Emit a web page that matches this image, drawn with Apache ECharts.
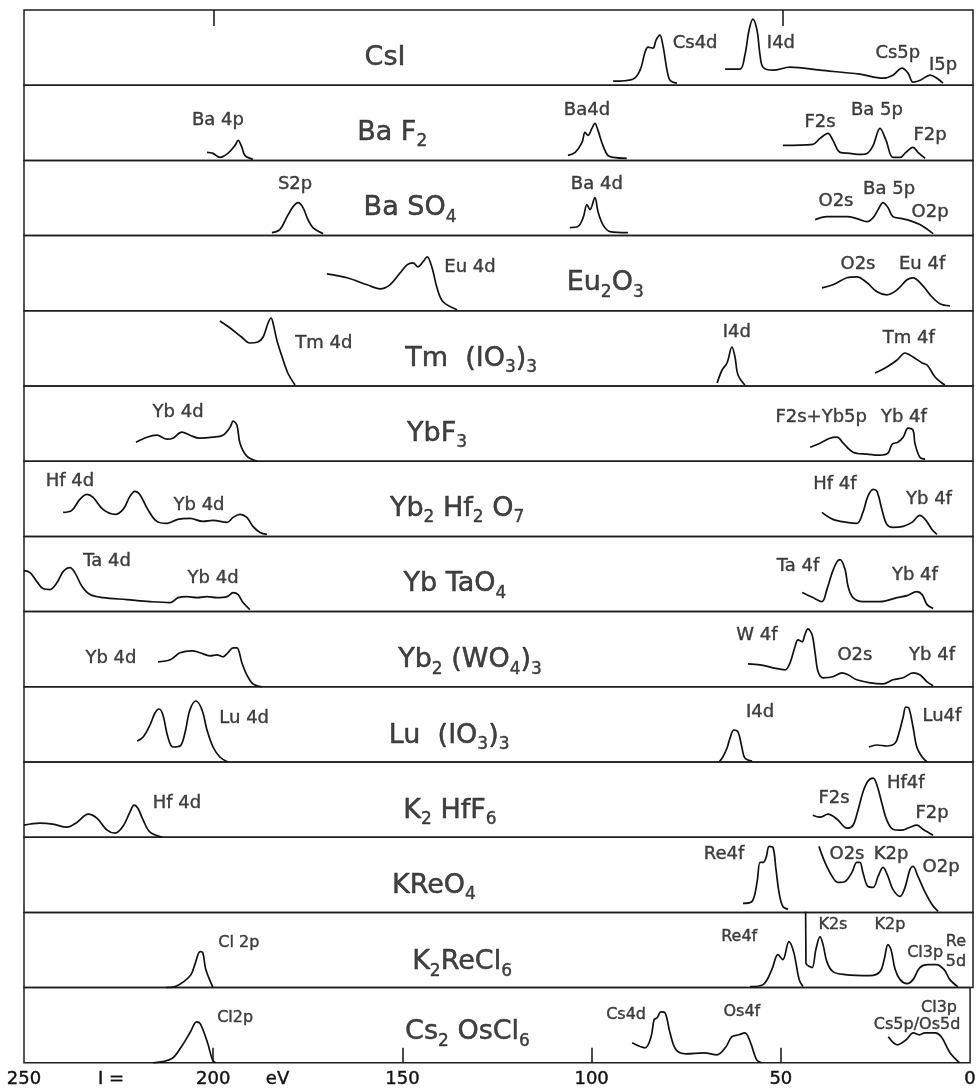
<!DOCTYPE html>
<html>
<head>
<meta charset="utf-8">
<script src="https://cdn.jsdelivr.net/npm/echarts@6/dist/echarts.min.js"></script>
<style>
html, body { margin: 0; padding: 0; background: #fff; }
#chart { width: 979px; height: 1092px; }
</style>
</head>
<body>
<div id="chart"></div>
<script>
// binding energy (eV) , intensity (arbitrary, 0..75 per strip)

// --- CsI
var csiCs4d = [[94.8,4],[89.6,6],[87.7,15],[86.4,33],[85.6,38],[84.3,37],[83.5,45],[82.5,50],[81.7,40],[80.6,15],[79.8,5],[78.0,2]];
var csiI4d = [[65.3,16],[61.4,16],[60.1,30],[59.0,55],[58.0,66],[56.9,55],[56.1,30],[55.3,18],[52.7,15],[48.2,18],[40.3,15],[29.8,11],[23.7,7],[21.1,10],[18.7,17],[17.1,12],[15.8,3],[13.9,5],[11.3,10],[9.5,7],[7.9,2]];
var csiLabels = [[73.2,42,'Cs4d'],[50.6,42,'I4d'],[19.8,32,'Cs5p'],[7.9,20,'I5p']];

// --- BaF2
var baf2Ba4p = [[201.8,8],[200.2,7],[198.4,3],[196.3,7],[194.4,15],[193.6,20],[192.6,13],[191.8,5],[189.7,1]];
var baf2Ba4d = [[106.7,5],[104.8,8],[103.0,18],[102.2,28],[101.4,25],[100.4,32],[99.6,37],[98.8,30],[97.5,15],[96.2,5],[94.8,3],[91.2,2]];
var baf2Val = [[50.1,15],[42.2,16],[40.3,22],[38.2,27],[36.9,20],[35.0,8],[32.4,7],[29.8,6],[27.9,7],[26.3,15],[24.5,32],[22.9,20],[21.1,3],[19.2,3],[17.7,8],[15.8,13],[14.5,8],[12.6,2]];
var baf2Labels = [[198.9,40,'Ba 4p'],[101.7,50,'Ba4d'],[40.3,38,'F2s'],[25.3,50,'Ba 5p'],[11.3,25,'F2p']];

// --- BaSO4
var baso4S2p = [[184.7,3],[182.6,6],[180.7,19],[179.1,29],[177.8,33],[176.5,28],[175.2,16],[173.9,8],[171.2,2]];
var baso4Ba4d = [[106.2,8],[104.1,9],[102.7,18],[101.7,31],[100.9,26],[99.6,38],[98.8,24],[97.5,11],[95.6,4],[90.9,3]];
var baso4Val = [[41.6,16],[38.5,19],[35.8,19],[33.2,19],[30.6,17],[27.9,14],[26.3,18],[25.0,26],[23.7,33],[22.4,28],[21.1,19],[18.7,17],[16.6,15],[14.0,11],[11.9,6],[10.5,2]];
var baso4Labels = [[178.6,51,'S2p'],[99.1,51,'Ba 4d'],[36.1,34,'O2s'],[22.1,46,'Ba 5p'],[11.3,23,'O2p']];

// --- Eu2O3
var euEu4d = [[170.2,37],[164.9,33],[159.6,26],[156.2,22],[153.6,26],[150.9,38],[149.1,46],[147.5,48],[146.2,44],[144.9,49],[143.8,54],[142.5,43],[141.2,23],[139.6,9],[135.9,1]];
var euVal = [[39.8,23],[36.9,26],[33.2,33],[30.6,34],[27.9,28],[25.3,19],[22.7,16],[20.0,21],[17.4,31],[15.8,33],[13.4,26],[11.3,16],[8.7,7],[6.1,5]];
var euLabels = [[132.5,43,'Eu 4d'],[30.3,46,'O2s'],[13.4,46,'Eu 4f']];

// --- Tm(IO3)3
var tmTm4d = [[198.4,65],[195.7,58],[192.7,49],[190.5,43],[188.4,44],[187.0,49],[185.7,63],[184.9,68],[184.4,63],[183.4,46],[182.0,29],[180.5,13],[178.6,1]];
var tmI4d = [[67.4,3],[66.1,16],[64.8,23],[63.5,39],[62.7,29],[61.9,11],[60.1,1]];
var tmTm4f = [[25.8,13],[22.7,19],[20.0,26],[17.9,33],[15.8,29],[13.4,23],[12.1,21],[10.0,9],[8.2,3],[7.4,1]];
var tmLabels = [[171.0,43,'Tm 4d'],[62.2,54,'I4d'],[16.9,48,'Tm 4f']];

// --- YbF3
var ybf3Yb4d = [[220.5,19],[217.6,24],[215.0,26],[212.3,22],[210.8,23],[208.4,29],[206.3,26],[203.8,23],[200.2,24],[197.6,26],[195.7,34],[194.9,40],[193.9,36],[193.1,18],[191.3,5],[188.6,0]];
var ybf3Val = [[42.9,14],[40.3,18],[37.7,23],[35.8,24],[34.2,18],[31.6,9],[27.9,7],[24.5,6],[22.4,8],[21.3,17],[19.8,19],[18.4,24],[17.1,33],[15.8,31],[15.3,18],[14.0,4],[12.6,2]];
var ybf3Labels = [[209.4,49,'Yb 4d'],[40.0,44,'F2s+Yb5p'],[18.2,44,'Yb 4f']];

// --- Yb2Hf2O7
var ybhfHf4d = [[239.7,24],[237.4,26],[235.3,37],[233.4,42],[231.8,39],[229.2,27],[226.0,22],[223.9,27],[222.1,40],[220.8,45],[219.5,42],[217.4,27],[215.0,15],[212.3,13],[209.5,17],[206.3,18],[202.9,15],[200.2,16],[196.5,14],[194.9,19],[193.1,22],[191.3,19],[189.7,10],[187.8,4],[186.0,2]];
var ybhfVal = [[39.8,24],[36.9,17],[33.2,14],[30.6,13],[29.0,24],[27.7,40],[26.3,47],[25.3,45],[24.0,27],[22.7,12],[21.1,9],[18.4,10],[16.1,14],[14.0,21],[12.6,17],[10.8,7],[9.5,2]];
var ybhfLabels = [[237.9,55,'Hf 4d'],[203.9,31,'Yb 4d'],[36.4,52,'Hf 4f'],[11.6,37,'Yb 4f']];

// --- YbTaO4
var ybtaTa4d = [[250,41],[248.4,39],[246.6,30],[245.0,23],[243.2,22],[241.3,29],[239.7,40],[237.9,44],[236.6,39],[234.7,25],[232.6,17],[229.2,14],[222.9,12],[216.8,10],[211.5,9],[209.4,14],[207.1,15],[204.4,14],[201.8,15],[199.2,14],[196.5,15],[194.9,19],[193.6,17],[192.3,9],[190.5,2]];
var ybtaVal = [[45.0,19],[42.2,14],[39.8,10],[38.5,22],[37.1,39],[35.8,50],[35.0,52],[33.7,42],[32.9,25],[31.6,14],[29.0,10],[24.5,10],[20.0,14],[17.4,16],[14.8,20],[13.4,17],[12.1,7],[10.5,3]];
var ybtaLabels = [[228.1,50,'Ta 4d'],[200.2,33,'Yb 4d'],[46.1,45,'Ta 4f'],[15.3,36,'Yb 4f']];

// --- Yb2(WO4)3
var ybwYb4d = [[214.7,25],[211.5,27],[208.9,34],[205.7,36],[203.6,34],[201.0,31],[199.2,32],[197.6,30],[196.3,34],[194.9,39],[193.9,39],[192.6,24],[191.3,12],[189.7,3],[187.3,0]];
var ybwVal = [[59.3,23],[56.1,22],[52.7,19],[49.5,17],[48.2,24],[46.9,40],[46.1,47],[45.0,45],[44.3,52],[43.5,58],[42.4,52],[41.6,34],[40.8,15],[39.5,9],[36.9,10],[34.5,14],[32.9,12],[30.6,7],[27.1,4],[23.7,3],[21.1,7],[18.4,9],[15.8,14],[14.0,12],[12.1,5],[10.5,1]];
var ybwLabels = [[227.1,28,'Yb 4d'],[56.9,51,'W 4f'],[31.1,31,'O2s'],[10.8,31,'Yb 4f']];

// --- Lu(IO3)3
var luLu4d = [[220.2,21],[218.6,25],[216.8,37],[215.5,49],[214.4,53],[213.4,47],[212.1,25],[210.8,15],[208.9,16],[207.6,29],[206.3,52],[204.7,61],[203.1,52],[201.8,32],[200.2,15],[198.4,5],[196.3,0]];
var luI4d = [[66.9,0],[65.9,5],[64.8,14],[64.0,24],[63.0,32],[61.9,30],[60.9,15],[60.1,4],[58.2,1]];
var luLu4f = [[27.4,15],[25.3,17],[22.7,16],[20.5,19],[19.5,29],[18.4,45],[17.7,55],[16.9,54],[15.8,35],[14.8,15],[13.4,5],[12.1,0]];
var luLabels = [[192.0,44,'Lu 4d'],[56.1,50,'I4d'],[8.2,46,'Lu4f']];

// --- K2HfF6
var khfHf4d = [[250,12],[245.8,14],[242.4,13],[238.7,10],[236.0,15],[233.1,23],[230.8,19],[228.1,7],[226.0,4],[223.9,11],[222.1,25],[221.0,32],[220.0,29],[218.6,17],[216.8,5],[213.6,0]];
var khfVal = [[42.2,22],[40.3,20],[38.2,23],[35.8,18],[33.2,9],[31.6,12],[30.3,27],[29.0,45],[27.7,56],[26.3,59],[25.3,52],[24.0,34],[22.7,17],[21.1,8],[18.7,7],[16.6,10],[14.8,12],[13.2,8],[10.5,2]];
var khfLabels = [[209.7,34,'Hf 4d'],[36.6,39,'F2s'],[17.7,54,'Hf4f'],[10.8,24,'F2p']];

// --- KReO4
var kreRe4f = [[60.6,9],[58.2,11],[56.9,30],[56.1,50],[55.3,50],[54.5,55],[53.7,66],[52.7,65],[51.9,43],[51.1,20],[50.1,6],[48.7,3]];
var kreVal = [[40.6,66],[39.0,50],[37.1,36],[35.6,30],[33.7,31],[31.9,40],[30.6,50],[29.8,50],[29.0,40],[27.7,26],[26.3,25],[25.0,36],[23.7,45],[22.4,36],[21.1,23],[19.2,16],[17.9,25],[16.6,43],[15.8,46],[14.5,36],[12.6,20],[10.8,8],[9.2,1]];
var kreLabels = [[65.6,58,'Re4f'],[33.2,58,'O2s'],[21.6,58,'K2p'],[8.4,45,'O2p']];

// --- K2ReCl6
var k2reCl2p = [[212.6,0],[210.2,1],[207.9,6],[206.0,13],[205.0,23],[203.6,36],[202.9,35],[202.1,18],[200.2,0]];
var k2reRe4f = [[58.7,1],[55.3,3],[53.0,18],[51.4,33],[50.1,28],[48.5,46],[47.2,35],[45.8,8],[44.8,1]];
var k2reEdge = [[44.1,76],[44.0,24],[43.6,22]];
var k2reVal = [[43.6,22],[42.4,20],[41.4,38],[40.3,51],[39.5,43],[38.5,26],[36.9,16],[33.7,13],[27.1,12],[24.5,16],[23.4,28],[22.4,43],[21.6,38],[20.5,18],[19.2,8],[17.4,4],[15.8,8],[14.0,20],[11.9,23],[9.7,23],[7.6,18],[6.1,8],[4.0,1]];
var k2reLabels = [[193.4,45,'Cl 2p'],[61.6,51,'Re4f'],[36.9,63,'K2s'],[21.9,63,'K2p'],[12.6,35,'Cl3p'],[4.5,46,'Re'],[4.5,26,'5d']];

// --- Cs2OsCl6
var cs2Cl2p = [[215.8,0],[211.0,4],[208.6,15],[206.0,31],[204.4,41],[203.4,39],[201.5,20],[200.2,3],[199.4,0]];
var cs2Cs4dOs4f = [[89.3,20],[85.9,15],[84.3,26],[83.5,43],[82.7,45],[81.7,51],[80.6,50],[79.3,30],[77.7,13],[75.1,9],[70.3,10],[66.9,8],[64.5,16],[63.0,26],[61.1,28],[59.5,30],[58.0,20],[56.4,3],[55.1,0]];
var cs2Val = [[21.6,26],[19.2,18],[16.9,23],[15.0,30],[13.4,28],[11.9,30],[9.2,30],[7.6,26],[5.3,10],[2.8,0]];
var cs2Labels = [[194.2,45,'Cl2p'],[90.9,48,'Cs4d'],[60.3,51,'Os4f'],[8.2,55,'Cl3p'],[14.0,38,'Cs5p/Os5d']];

// compound names (rich text) and their anchor in data units
var titles = [
  '{t|CsI}', '{t|Ba F}{s|2}', '{t|Ba SO}{s|4}', '{t|Eu}{s|2}{t|O}{s|3}',
  '{t|Tm  (IO}{s|3}{t|)}{s|3}', '{t|YbF}{s|3}', '{t|Yb}{s|2}{t| Hf}{s|2}{t| O}{s|7}',
  '{t|Yb TaO}{s|4}', '{t|Yb}{s|2}{t| (WO}{s|4}{t|)}{s|3}', '{t|Lu  (IO}{s|3}{t|)}{s|3}',
  '{t|K}{s|2}{t| HfF}{s|6}', '{t|KReO}{s|4}', '{t|K}{s|2}{t|ReCl}{s|6}', '{t|Cs}{s|2}{t| OsCl}{s|6}'
];
var titlePos = [[154.9,27],[153,27],[148.3,27],[96.9,27],[132.2,27],[141.2,27],[135.9,27],
  [136.5,27],[132.5,26],[138.0,26],[137.8,26],[142.0,26],[134.6,25],[132.8,30]];

// energy axis
var tickValues = [200, 150, 100, 50];
var topTickValues = [200, 50];
var axisLabelValues = [250, 227, 200, 183, 150, 100, 50, 0];
var axisLabelText = {250: '250', 227: 'I =', 200: '200', 183: 'eV', 150: '150', 100: '100', 50: '50', 0: '0'};

var rowCurves = [
  [csiCs4d, csiI4d],
  [baf2Ba4p, baf2Ba4d, baf2Val],
  [baso4S2p, baso4Ba4d, baso4Val],
  [euEu4d, euVal],
  [tmTm4d, tmI4d, tmTm4f],
  [ybf3Yb4d, ybf3Val],
  [ybhfHf4d, ybhfVal],
  [ybtaTa4d, ybtaVal],
  [ybwYb4d, ybwVal],
  [luLu4d, luI4d, luLu4f],
  [khfHf4d, khfVal],
  [kreRe4f, kreVal],
  [k2reCl2p, k2reRe4f, k2reVal],
  [cs2Cl2p, cs2Cs4dOs4f, cs2Val]
];
var rowStraight = [[], [], [], [], [], [], [], [], [], [], [], [], [k2reEdge], []];
var rowLabels = [csiLabels, baf2Labels, baso4Labels, euLabels, tmLabels, ybf3Labels, ybhfLabels,
  ybtaLabels, ybwLabels, luLabels, khfLabels, kreLabels, k2reLabels, cs2Labels];

var FONT = 'DejaVu Sans';
var INK = '#111';
var TOP = 10, H = 75.2, LEFT = 24, RIGHT = 6;
var YMAX = 75.2;

var myChart = echarts.init(document.getElementById('chart'), null, {renderer: 'canvas'});

var grids = [], xAxes = [], yAxes = [], series = [];
var n = rowCurves.length;

for (var i = 0; i < n; i++) {
  grids.push({
    left: LEFT, right: RIGHT, top: TOP + i * H, height: H,
    show: true, borderColor: '#1e1e1e', borderWidth: 1.5, backgroundColor: 'transparent'
  });
  var xa = {
    gridIndex: i, type: 'value', min: 0, max: 250, inverse: true,
    splitLine: {show: false}, axisLine: {show: false, onZero: false},
    axisTick: {show: false}, axisLabel: {show: false}
  };
  if (i === 0) {
    xa.position = 'top';
    xa.axisTick = {show: true, inside: true, length: 16, customValues: topTickValues,
      lineStyle: {color: INK, width: 1.5}};
  }
  if (i === n - 1) {
    xa.position = 'bottom';
    xa.axisTick = {show: true, inside: true, length: 15, customValues: tickValues,
      lineStyle: {color: INK, width: 1.5}};
    xa.axisLabel = {show: true, customValues: axisLabelValues, margin: 8,
      color: INK, fontSize: 18, fontFamily: FONT,
      textBorderColor: INK, textBorderWidth: 0.4,
      formatter: function (v) { return axisLabelText[v]; }};
  }
  xAxes.push(xa);
  yAxes.push({gridIndex: i, type: 'value', min: 0, max: YMAX, show: false});

  rowCurves[i].forEach(function (curve) {
    series.push({
      type: 'line', xAxisIndex: i, yAxisIndex: i, data: curve,
      smooth: 0.35, showSymbol: false, silent: true, clip: true,
      lineStyle: {color: INK, width: 1.7}
    });
  });
  rowStraight[i].forEach(function (curve) {
    series.push({
      type: 'line', xAxisIndex: i, yAxisIndex: i, data: curve,
      smooth: false, showSymbol: false, silent: true, clip: true,
      lineStyle: {color: INK, width: 1.7}
    });
  });

  var small = i >= 12;
  series.push({
    type: 'scatter', xAxisIndex: i, yAxisIndex: i, silent: true, clip: false,
    symbolSize: 1, itemStyle: {color: 'rgba(0,0,0,0)'},
    data: rowLabels[i].map(function (l) {
      return {value: [l[0], l[1]], name: l[2]};
    }),
    label: {show: true, position: 'inside', color: INK, fontFamily: FONT,
      fontSize: small ? 16 : 18, textBorderColor: INK, textBorderWidth: 0.4,
      formatter: function (p) { return p.name; }}
  });

  series.push({
    type: 'scatter', xAxisIndex: i, yAxisIndex: i, silent: true, clip: false,
    symbolSize: 1, itemStyle: {color: 'rgba(0,0,0,0)'},
    data: [{value: titlePos[i], name: titles[i]}],
    label: {show: true, position: 'inside', color: INK, fontFamily: FONT,
      formatter: function (p) { return p.name; },
      rich: {
        t: {fontSize: 27, fontFamily: FONT, color: INK, lineHeight: 28, verticalAlign: 'top',
          textBorderColor: INK, textBorderWidth: 0.5},
        s: {fontSize: 17, fontFamily: FONT, color: INK, lineHeight: 17, verticalAlign: 'top',
          padding: [14, 0, 0, 0], textBorderColor: INK, textBorderWidth: 0.4}
      }}
  });
}

var option = {
  animation: false,
  backgroundColor: '#fff',
  grid: grids,
  xAxis: xAxes,
  yAxis: yAxes,
  series: series
};

myChart.setOption(option, true);
</script>
</body>
</html>
